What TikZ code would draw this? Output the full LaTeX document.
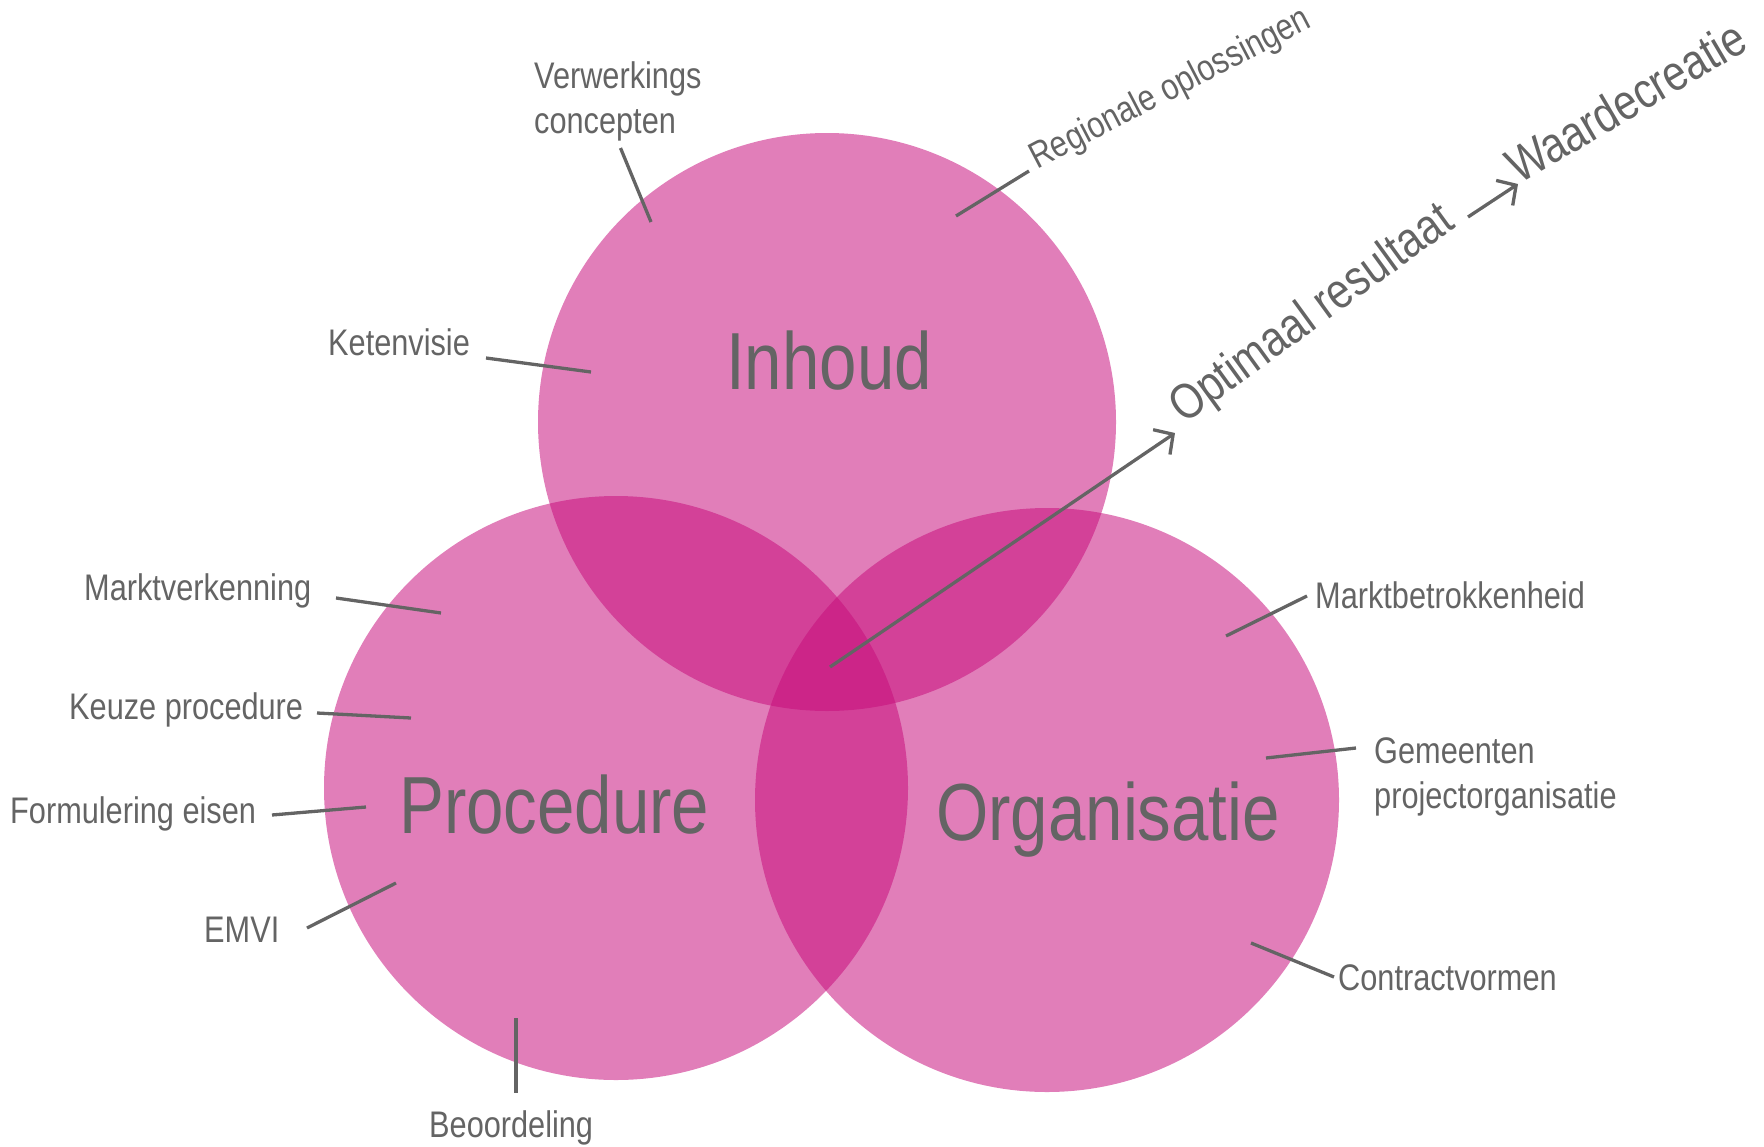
\documentclass[tikz,border=0pt]{standalone}
\usepackage{fontspec}
\setmainfont{Liberation Sans}[FakeStretch=0.83]
\usetikzlibrary{arrows.meta}
\definecolor{txt}{HTML}{646464}
\definecolor{mag}{RGB}{198,12,123}
\begin{document}
\begin{tikzpicture}[x=1pt,y=-1pt,
  circ/.style={circle,inner sep=0pt,fill=mag,fill opacity=0.53,draw=none},
  lbl/.style={inner sep=0pt,anchor=base west,text=txt,font=\fontsize{37}{44}\selectfont},
  big/.style={inner sep=0pt,anchor=base west,text=txt,font=\fontsize{81}{90}\selectfont},
  mid/.style={inner sep=0pt,anchor=base west,text=txt,font=\fontsize{50}{58}\selectfont},
  lead/.style={draw=txt,line width=3.3pt},
  arr/.style={lead,-{Straight Barb[length=14pt,width=30pt,line width=3.3pt]}}]
\useasboundingbox (0,0) rectangle (1764,1146);

% circles
\node[circ,minimum size=578pt] (inh) at (827,422) {};
\node[circ,minimum size=584pt] (pro) at (616,788) {};
\node[circ,minimum size=584pt] (org) at (1047,800) {};

% main labels
\node[big] (tinh) at (726,389) {Inhoud};
\node[big] (tpro) at (399,833) {Procedure};
\node[big] (torg) at (936,840) {Organisatie};

% small labels
\node[lbl] (verw1) at (534,88) {Verwerkings};
\node[lbl] (verw2) at (534,133) {concepten};
\node[lbl,rotate=27.5] (reg) at (1037,170) {Regionale oplossingen};
\node[lbl] (ket) at (328,355) {Ketenvisie};
\node[lbl] (mv) at (84,600) {Marktverkenning};
\node[lbl] (kp) at (69,719) {Keuze procedure};
\node[lbl] (fe) at (10,823) {Formulering eisen};
\node[lbl] (emvi) at (204,942) {EMVI};
\node[lbl] (beo) at (429,1137) {Beoordeling};
\node[lbl] (mb) at (1315,608) {Marktbetrokkenheid};
\node[lbl] (gem1) at (1374,763) {Gemeenten};
\node[lbl] (gem2) at (1374,808) {projectorganisatie};
\node[lbl] (con) at (1338,990) {Contractvormen};
\node[mid,rotate=36] (opt) at (1184,425) {Optimaal resultaat};
\node[mid,rotate=30.5] (waa) at (1519,185) {Waardecreatie};

% leader end points
\coordinate (verwA) at (620.5,148); \coordinate (verwB) at (651,222);
\coordinate (regA) at (956,216);    \coordinate (regB) at (1029,171);
\coordinate (ketA) at (486,358);    \coordinate (ketB) at (591,372);
\coordinate (mvA) at (336,598);     \coordinate (mvB) at (441,613);
\coordinate (kpA) at (317,713);     \coordinate (kpB) at (411,718);
\coordinate (feA) at (272,815);     \coordinate (feB) at (366,807);
\coordinate (emA) at (307,928);     \coordinate (emB) at (396,883);
\coordinate (beA) at (516,1018);    \coordinate (beB) at (516,1093);
\coordinate (mbA) at (1226,636);    \coordinate (mbB) at (1307,596);
\coordinate (gmA) at (1266,758);    \coordinate (gmB) at (1356,748);
\coordinate (coA) at (1251,943);    \coordinate (coB) at (1334,977);
\coordinate (core) at (830,667);    \coordinate (optTip) at (1175,433);
\coordinate (a2A) at (1468,217);    \coordinate (a2B) at (1518,184);

\draw[lead] (verwA) -- (verwB);
\draw[lead] (regA) -- (regB);
\draw[lead] (ketA) -- (ketB);
\draw[lead] (mvA) -- (mvB);
\draw[lead] (kpA) -- (kpB);
\draw[lead] (feA) -- (feB);
\draw[lead] (emA) -- (emB);
\draw[lead] (beA) -- (beB);
\draw[lead] (mbA) -- (mbB);
\draw[lead] (gmA) -- (gmB);
\draw[lead] (coA) -- (coB);
\draw[arr] (core) -- (optTip);
\draw[arr] (a2A) -- (a2B);
\end{tikzpicture}
\end{document}
